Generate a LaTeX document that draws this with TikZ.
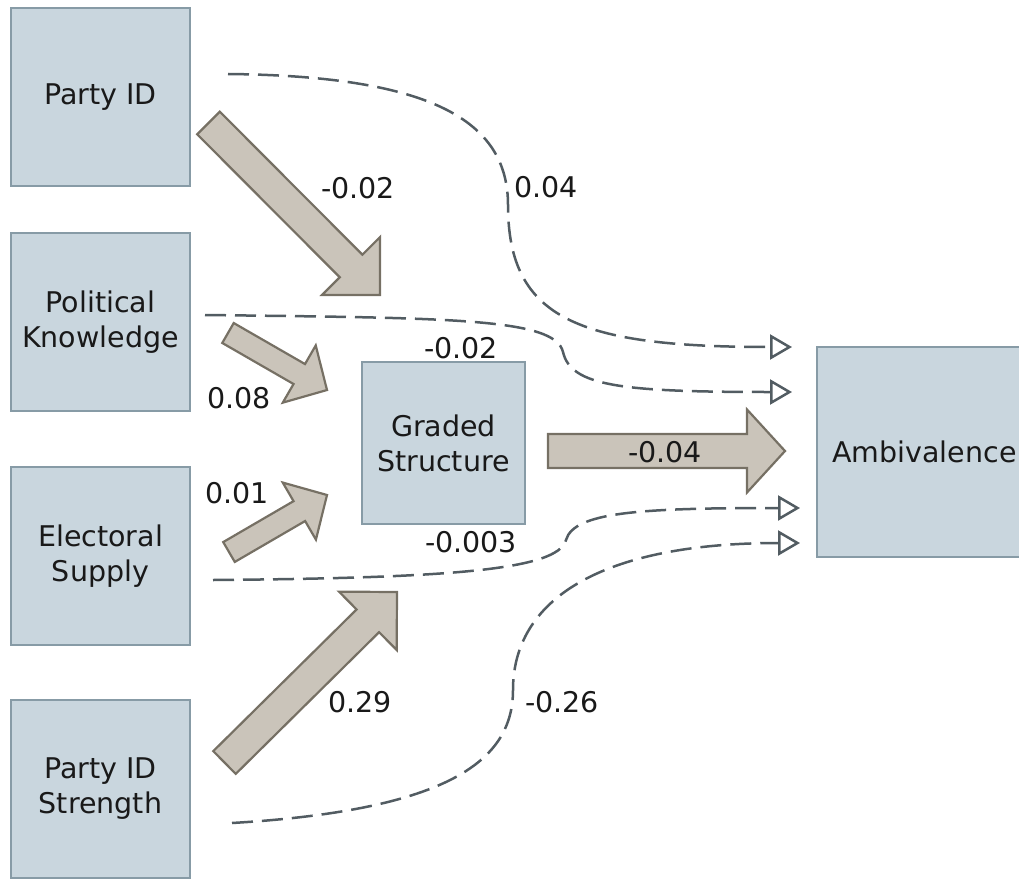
\documentclass[tikz,border=0pt]{standalone}
\usepackage{fontspec}
\setmainfont{DejaVu Sans}
\usetikzlibrary{calc,arrows.meta}
\definecolor{boxfill}{RGB}{201,214,222}
\definecolor{boxline}{RGB}{135,155,166}
\definecolor{blkfill}{RGB}{202,196,186}
\definecolor{blkline}{RGB}{118,112,100}
\definecolor{dashcol}{RGB}{82,92,98}
\definecolor{txtcol}{RGB}{25,25,25}
% block arrow: from, to, shaft half width, head half width, head length
\newcommand\blkarrow[5]{%
  \coordinate (#1-base) at ($(#2)!#5!(#1)$);
  \draw[blockarrow] ($(#1)!#3!90:(#2)$) -- ($(#1-base)!#3!90:(#2)$) -- ($(#1-base)!#4!90:(#2)$) -- (#2)
    -- ($(#1-base)!#4!-90:(#2)$) -- ($(#1-base)!#3!-90:(#2)$) -- ($(#1)!#3!-90:(#2)$) -- cycle;
}
\begin{document}
\begin{tikzpicture}[x=1pt,y=-1pt,
  every node/.style={font=\fontsize{28.5}{35}\selectfont, text=txtcol},
  box/.style={draw=boxline, fill=boxfill, line width=2.5pt, align=center, inner sep=0pt},
  blockarrow/.style={fill=blkfill, draw=blkline, line width=2.2pt, line join=miter},
  dashconn/.style={draw=dashcol, line width=2.5pt, dash pattern=on 21pt off 9pt,
    -{Triangle[open, length=22pt, width=25pt]}},
  lbl/.style={inner sep=1pt}]
\useasboundingbox (0,0) rectangle (1019,880);
\clip (0,0) rectangle (1019,880);

% boxes
\node[box, minimum width=179pt, minimum height=178pt] (pid) at (100.5,97) {Party ID};
\node[box, minimum width=179pt, minimum height=178pt] (pk) at (100.5,322) {Political\\Knowledge};
\node[box, minimum width=179pt, minimum height=178pt] (es) at (100.5,556) {Electoral\\Supply};
\node[box, minimum width=179pt, minimum height=178pt] (pids) at (100.5,789) {Party ID\\Strength};
\node[box, minimum width=163pt, minimum height=162pt] (gs) at (443.5,443) {Graded\\Structure};
\node[box, minimum width=215pt, minimum height=210pt] (amb) at (924.5,452) {Ambivalence};

% block arrow end points
\coordinate (a1s) at (208.5,123);  \coordinate (a1e) at (380,295);
\coordinate (a2s) at (228,333);    \coordinate (a2e) at (327,390);
\coordinate (a3s) at (229,552);    \coordinate (a3e) at (327,495);
\coordinate (a4s) at (224.5,762.5);\coordinate (a4e) at (397,592);
\coordinate (a5s) at (548,451);    \coordinate (a5e) at (785,451);

\blkarrow{a1s}{a1e}{16pt}{41pt}{41pt}
\blkarrow{a2s}{a2e}{11.5pt}{33pt}{32pt}
\blkarrow{a3s}{a3e}{11.5pt}{33pt}{32pt}
\blkarrow{a4s}{a4e}{16pt}{41pt}{41pt}
\blkarrow{a5s}{a5e}{17pt}{41.5pt}{38pt}

% dashed connector ends
\coordinate (d1s) at (228,74);   \coordinate (d1e) at (792,347);
\coordinate (d2s) at (205,315);  \coordinate (d2e) at (792,392);
\coordinate (d3s) at (213,580);  \coordinate (d3e) at (800,508);
\coordinate (d4s) at (232,823);  \coordinate (d4e) at (800,543);

\draw[dashconn] (d1s) .. controls (430,76) and (508,120) .. (508,205)
  .. controls (508,320) and (580,347) .. (d1e);
\draw[dashconn] (d2s) .. controls (450,318) and (555,318) .. (563,352)
  .. controls (571,386) and (620,392) .. (d2e);
\draw[dashconn] (d3s) .. controls (450,578) and (558,570) .. (566,540)
  .. controls (574,512) and (640,508) .. (d3e);
\draw[dashconn] (d4s) .. controls (450,810) and (513,760) .. (513,690)
  .. controls (513,600) and (600,543) .. (d4e);

% labels
\node[lbl] (l1) at (358,188) {-0.02};
\node[lbl] (l2) at (546,187) {0.04};
\node[lbl] (l3) at (239,398) {0.08};
\node[lbl] (l4) at (461,348) {-0.02};
\node[lbl] (l5) at (237,493) {0.01};
\node[lbl] (l6) at (471,542) {-0.003};
\node[lbl] (l7) at (360,702) {0.29};
\node[lbl] (l8) at (562,702) {-0.26};
\node[lbl] (l9) at (665,452) {-0.04};
\end{tikzpicture}
\end{document}
